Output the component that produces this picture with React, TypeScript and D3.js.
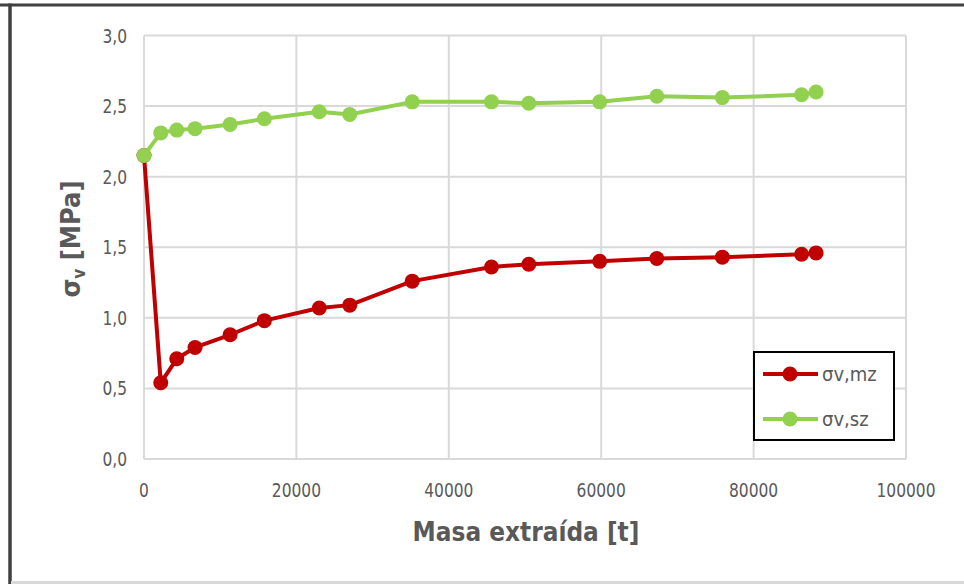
import React from "react";
import * as d3 from "d3";

// Extracted mass [t] at each measurement stage
const masaExtraida = [0, 2200, 4300, 6700, 11300, 15800, 23000, 27000, 35200, 45600, 50500, 59800, 67300, 75900, 86300, 88200];
// Vertical stress, series σv,mz [MPa]
const sigmaMz = [2.15, 0.54, 0.71, 0.79, 0.88, 0.98, 1.07, 1.09, 1.26, 1.36, 1.38, 1.40, 1.42, 1.43, 1.45, 1.46];
// Vertical stress, series σv,sz [MPa]
const sigmaSz = [2.15, 2.31, 2.33, 2.34, 2.37, 2.41, 2.46, 2.44, 2.53, 2.53, 2.52, 2.53, 2.57, 2.56, 2.58, 2.60];

const xTicks = [0, 20000, 40000, 60000, 80000, 100000];
const yTicks = [0, 0.5, 1.0, 1.5, 2.0, 2.5, 3.0];

const seriesNames = ["σv,mz", "σv,sz"];
const seriesColors = ["#C00000", "#92D050"];

const W = 964;
const H = 584;
const FONT = "'DejaVu Sans Condensed', 'DejaVu Sans', sans-serif";
const TEXT = "#595959";
const GRID = "#d9d9d9";
const NARROW = 0.86;

export default function App() {
  const x = d3.scaleLinear().domain([0, 100000]).range([144, 906]);
  const y = d3.scaleLinear().domain([0, 3]).range([459, 35.5]);

  const pts = (vals: number[]) => masaExtraida.map((m, i) => [m, vals[i]] as [number, number]);
  const line = d3
    .line<[number, number]>()
    .x((d) => x(d[0]))
    .y((d) => y(d[1]));

  const series = [sigmaMz, sigmaSz];
  const fmtY = (v: number) => v.toFixed(1).replace(".", ",");

  return (
    <svg
      width={W}
      height={H}
      viewBox={`0 0 ${W} ${H}`}
      style={{ position: "absolute", left: 0, top: 0, display: "block", background: "#fff" }}
      fontFamily={FONT}
    >
      <rect x={0} y={0} width={W} height={H} fill="#fff" />
      {/* frame */}
      <line x1={0} x2={W} y1={5} y2={5} stroke="#404040" strokeWidth={3} />
      <line x1={10} x2={10} y1={3.5} y2={H} stroke="#404040" strokeWidth={3.5} />
      <rect x={11} y={581} width={W} height={3} fill="#d9d9d9" />

      {/* gridlines */}
      {yTicks.map((t) => (
        <line key={"gy" + t} x1={x(0)} x2={x(100000)} y1={y(t)} y2={y(t)} stroke={GRID} strokeWidth={2} />
      ))}
      {xTicks.map((t) => (
        <line key={"gx" + t} x1={x(t)} x2={x(t)} y1={y(0)} y2={y(3)} stroke={GRID} strokeWidth={2} />
      ))}

      {/* tick labels */}
      {yTicks.map((t) => (
        <text
          key={"ty" + t}
          transform={`translate(127, ${y(t)}) scale(${NARROW}, 1)`}
          dy="0.35em"
          textAnchor="end"
          fontSize={20}
          fill={TEXT}
        >
          {fmtY(t)}
        </text>
      ))}
      {xTicks.map((t) => (
        <text
          key={"tx" + t}
          transform={`translate(${x(t)}, 497) scale(${NARROW}, 1)`}
          textAnchor="middle"
          fontSize={20}
          fill={TEXT}
        >
          {String(t)}
        </text>
      ))}

      {/* axis titles */}
      <text
        transform={`translate(526, 541) scale(0.96, 1)`}
        textAnchor="middle"
        fontSize={27}
        fontWeight="bold"
        fill={TEXT}
      >
        Masa extraída [t]
      </text>
      <text
        transform={`translate(80, 239) rotate(-90)`}
        textAnchor="middle"
        fontSize={27}
        fontWeight="bold"
        fill={TEXT}
      >
        σ<tspan fontSize={17} dy={5}>v</tspan>
        <tspan dy={-5}> [MPa]</tspan>
      </text>

      {/* series */}
      {series.map((vals, si) => (
        <g key={"s" + si}>
          <path d={line(pts(vals)) || ""} fill="none" stroke={seriesColors[si]} strokeWidth={4} strokeLinejoin="round" />
          {pts(vals).map((d, i) => (
            <circle key={i} cx={x(d[0])} cy={y(d[1])} r={7.5} fill={seriesColors[si]} />
          ))}
        </g>
      ))}

      {/* legend */}
      <rect x={754} y={352} width={140} height={88} fill="#fff" stroke="#000" strokeWidth={2} />
      {seriesNames.map((n, i) => {
        const ly = 374 + i * 45;
        return (
          <g key={"l" + i}>
            <line x1={763} x2={818} y1={ly} y2={ly} stroke={seriesColors[i]} strokeWidth={4} />
            <circle cx={790} cy={ly} r={7.5} fill={seriesColors[i]} />
            <text x={822} y={ly} dy="0.35em" fontSize={20} fill={TEXT}>
              {n}
            </text>
          </g>
        );
      })}
    </svg>
  );
}
